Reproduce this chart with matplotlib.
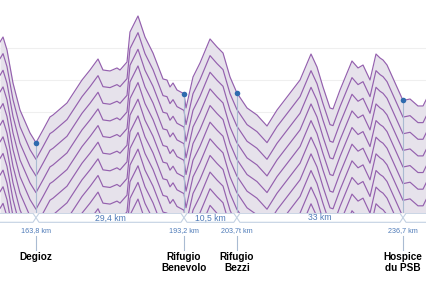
import numpy as np
import matplotlib
matplotlib.use("Agg")
import matplotlib.pyplot as plt
from matplotlib.patches import Polygon

plt.rcParams['font.family'] = ['Liberation Sans', 'DejaVu Sans']

# profile (km, m)
km = [156.65, 157.25, 158.04, 159.23, 160.62, 162.61, 163.8, 165.19, 166.58, 167.18,
      169.96, 172.94, 174.53, 176.12, 177.11, 178.50, 179.89, 180.49, 181.88, 182.47,
      184.06, 185.45, 187.04, 189.03, 189.82, 190.42, 191.02, 191.81, 193.2, 193.6,
      194.99, 196.38, 198.37, 199.76, 200.95, 202.34, 203.7, 205.72, 207.70, 209.69,
      211.68, 213.66, 216.25, 218.43, 219.62, 220.81, 222.20, 222.80, 224.19, 226.57,
      227.77, 228.76, 230.15, 231.34, 232.14, 232.74, 233.53, 236.7, 238.1, 239.68,
      240.68, 241.47]
elev = [3094, 3172, 2969, 2453, 2031, 1672, 1520, 1719, 1922, 1953,
        2141, 2500, 2656, 2828, 2656, 2641, 2688, 2656, 2781, 3250,
        3500, 3172, 2922, 2516, 2500, 2391, 2453, 2344, 2285, 2063,
        2547, 2766, 3141, 3016, 2922, 2547, 2300, 2063, 1953, 1781,
        2031, 2234, 2500, 2906, 2703, 2391, 2063, 2047, 2344, 2797,
        2688, 2734, 2500, 2906, 2844, 2812, 2734, 2180, 2203, 2094,
        2094, 2219]

stations = ["Degioz", "Rifugio\nBenevolo", "Rifugio\nBezzi", "Hospice\ndu PSB"]
station_km = [163.8, 193.2, 203.7, 236.7]
station_elev = [1520, 2285, 2300, 2180]
station_tick = ["163,8 km", "193,2 km", "203,7t km", "236,7 km"]
segment_txt = ["29,4 km", "10,5 km", "33 km"]

XMIN, XMAX = 156.65, 241.47
LINE = '#9460ae'
FILL = '#e6e2eb'
BLUE = '#4f7bb8'
EDGE = '#c3d1e2'

fig = plt.figure(figsize=(4.27, 2.99), dpi=100)
ax = fig.add_axes([0, 86/299, 1, 213/299])
ax.set_xlim(XMIN, XMAX)
ymax = 2500 + 80*15.625
ymin = 2500 - (213-80)*15.625
ax.set_ylim(ymin, ymax)
ax.axis('off')

for g in [2000, 2500, 3000]:
    ax.axhline(g, color='#efefef', lw=0.8, zorder=0)

e = np.array(elev, dtype=float)
ax.fill_between(km, e, ymin, color=FILL, lw=0, zorder=1)
for i in range(13):
    ax.plot(km, e - i*260, color=LINE, lw=0.85, zorder=2)

for s, se in zip(station_km, station_elev):
    ax.plot([s, s], [ymin, se], color='#a9bbd2', lw=0.8, zorder=3)
    ax.scatter([s], [se], s=16, color='#2e6bae', zorder=4, lw=0)

# bottom band in pixel rows
bx = fig.add_axes([0, 0, 1, 86/299])
bx.set_xlim(XMIN, XMAX)
bx.set_ylim(299, 213)
bx.axis('off')

bounds = [XMIN - 2] + station_km + [XMAX + 2]
d = 0.6
top, mid, bot = 213.3, 217.7, 222.3
for a, b in zip(bounds[:-1], bounds[1:]):
    pts = [(a, mid), (a + d, top), (b - d, top), (b, mid), (b - d, bot), (a + d, bot)]
    bx.add_patch(Polygon(pts, closed=True, facecolor='white', edgecolor=EDGE, lw=0.8))

for a, b, t in zip(station_km[:-1], station_km[1:], segment_txt):
    bx.text((a + b)/2, mid + 0.3, t, color=BLUE, fontsize=6.2, ha='center', va='center')

for s, name, tk in zip(station_km, stations, station_tick):
    bx.text(s, 231, tk, color=BLUE, fontsize=5.2, ha='center', va='center')
    bx.plot([s, s], [236, 250], color='#a9bbd2', lw=0.8)
    bx.text(s, 252, name, color='black', fontsize=7.2, fontweight='bold',
            ha='center', va='top', linespacing=1.15)

fig.savefig("out.png", dpi=100)
